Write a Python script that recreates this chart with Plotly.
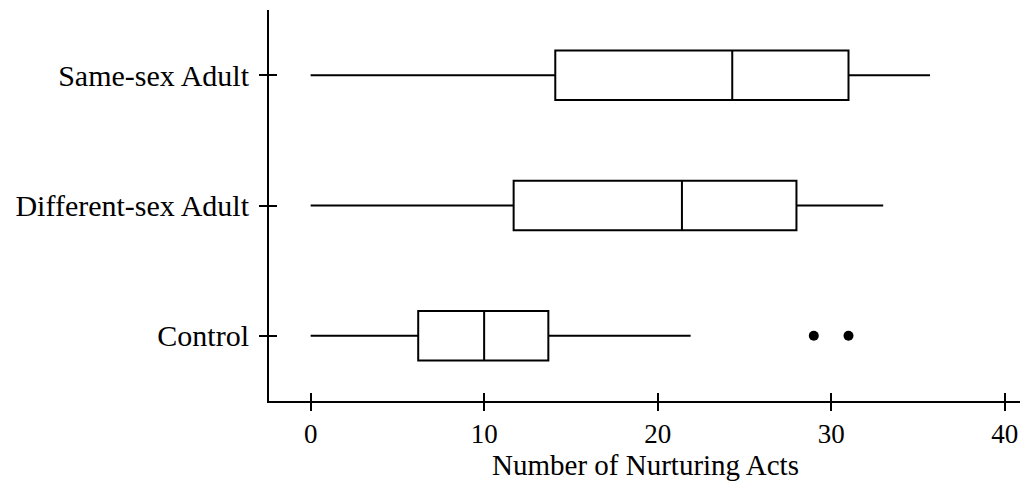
import plotly.graph_objects as go

categories = ["Control", "Different-sex Adult", "Same-sex Adult"]
lower_whisker = [0, 0, 0]
q1_vals = [6.2, 11.7, 14.1]
median_vals = [10.0, 21.4, 24.3]
q3_vals = [13.7, 28.0, 31.0]
upper_whisker = [21.9, 33.0, 35.7]

outlier_group = ["Control", "Control"]
outlier_vals = [29, 31]

x_ticks = [0, 10, 20, 30, 40]

FONT = "Liberation Serif"

fig = go.Figure()
fig.add_trace(go.Box(
    y=categories, q1=q1_vals, median=median_vals, q3=q3_vals,
    lowerfence=lower_whisker, upperfence=upper_whisker,
    orientation="h", width=0.38, whiskerwidth=0,
    line=dict(color="black", width=2), fillcolor="white",
    boxpoints=False, showlegend=False, hoverinfo="skip",
))
fig.add_trace(go.Scatter(
    x=outlier_vals, y=outlier_group, mode="markers",
    marker=dict(color="black", size=10), showlegend=False, hoverinfo="skip",
))
# invisible trace on overlay axes (for ticks crossing the axis lines)
fig.add_trace(go.Scatter(
    x=median_vals, y=categories, xaxis="x2", yaxis="y2", mode="markers",
    marker=dict(opacity=0), showlegend=False, hoverinfo="skip",
))

xrange = [-2.4, 41]
yrange = [-0.5, 2.5]

fig.update_layout(
    width=1028, height=483,
    margin=dict(l=261, r=14, t=2, b=90),
    plot_bgcolor="white", paper_bgcolor="white",
    font=dict(family=FONT, color="black", size=28),
    xaxis=dict(
        range=xrange, tickvals=x_ticks, ticks="outside", ticklen=8, tickwidth=2,
        tickcolor="black", showline=True, linecolor="black", linewidth=2,
        showgrid=False, zeroline=False, ticklabelstandoff=0, automargin=False,
        title=dict(text="Number of Nurturing Acts", standoff=0,
                   font=dict(family=FONT, size=29)),
        tickfont=dict(family=FONT, size=27),
    ),
    yaxis=dict(
        range=yrange, type="category", categoryorder="array", categoryarray=categories,
        ticks="outside", ticklen=8, tickwidth=2, tickcolor="black",
        showline=True, linecolor="black", linewidth=2, showgrid=False,
        zeroline=False, ticklabelstandoff=4, automargin=False,
        tickfont=dict(family=FONT, size=30),
    ),
    xaxis2=dict(
        overlaying="x", anchor="y2", side="bottom", range=xrange, tickvals=x_ticks,
        ticks="inside", ticklen=8, tickwidth=2, tickcolor="black",
        showticklabels=False, showline=False, showgrid=False, zeroline=False,
        automargin=False,
    ),
    yaxis2=dict(
        overlaying="y", anchor="x2", side="left", range=yrange, type="category",
        categoryorder="array", categoryarray=categories,
        ticks="inside", ticklen=8, tickwidth=2, tickcolor="black",
        showticklabels=False, showline=False, showgrid=False, zeroline=False,
        automargin=False,
    ),
)

fig.write_html("out.html")
